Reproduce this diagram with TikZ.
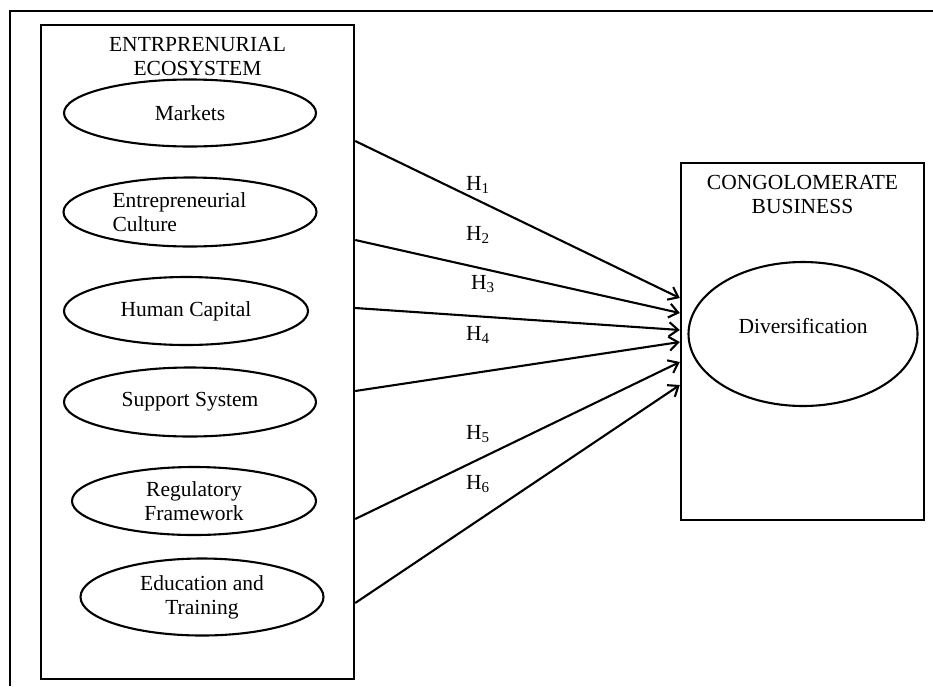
\documentclass[tikz,border=0pt]{standalone}
\usepackage{fontspec}
\setmainfont{Liberation Serif}
\usetikzlibrary{shapes.geometric,arrows.meta,positioning}

\begin{document}
\begin{tikzpicture}[x=1pt,y=-1pt,line width=2.1pt,
		every node/.style={font=\fontsize{21.5}{24}\selectfont},
		frame/.style={draw,line width=2.4pt,inner sep=0pt},
		factor/.style={draw,ellipse,inner sep=0pt,align=center},
		hyp/.style={-{Straight Barb[length=9pt,width=14pt]}}]
					%\draw[help lines] (0,0) grid (933,686);
					\useasboundingbox (0,0) rectangle (933,686);
					%FRAME
					\draw[line width=2.4pt] (10,686) -- (10,11) -- (933,11);

					%BOXES
					\node[frame,minimum width=313pt,minimum height=654pt] (eco) at (197.5,352) {};
					\node[frame,minimum width=243pt,minimum height=357pt] (cong) at (802.5,341.5) {};
					\node[below=12pt of eco.north,align=center,inner sep=0pt] (ecotitle) {ENTRPRENURIAL\\ECOSYSTEM};
					\node[below=12pt of cong.north,align=center,inner sep=0pt] (congtitle) {CONGOLOMERATE\\BUSINESS};

					%FACTORS
					\node[factor,minimum width=252pt,minimum height=67pt] (mk) at (190,113) {Markets};
					\node[factor,minimum width=253pt,minimum height=69pt,text width=155pt,align=left] (cu) at (190,212) {Entrepreneurial\\Culture};
					\node[factor,minimum width=244pt,minimum height=68pt] (hc) at (186,311) {Human Capital};
					\node[factor,minimum width=252pt,minimum height=69pt] (ss) at (190,402) {Support System};
					\node[factor,minimum width=244pt,minimum height=68pt] (rf) at (194,501) {Regulatory\\Framework};
					\node[factor,minimum width=243pt,minimum height=77pt] (et) at (202,597) {Education and\\Training};
					\node[factor,minimum width=229pt,minimum height=144pt,text depth=16pt] (dv) at (803,334) {Diversification};

					%HYPOTHESES
					\coordinate (s1) at (eco.east |- 0,141);
					\coordinate (s2) at (eco.east |- 0,240);
					\coordinate (s3) at (eco.east |- 0,308);
					\coordinate (s4) at (eco.east |- 0,391);
					\coordinate (s5) at (eco.east |- 0,519);
					\coordinate (s6) at (eco.east |- 0,603);
					\coordinate (e1) at (cong.west |- 0,298);
					\coordinate (e2) at (cong.west |- 0,313);
					\coordinate (e3) at (cong.west |- 0,330);
					\coordinate (e4) at (cong.west |- 0,342);
					\coordinate (e5) at (cong.west |- 0,362);
					\coordinate (e6) at (cong.west |- 0,385);
					\draw[hyp] (s1) -- (e1);
					\draw[hyp] (s2) -- (e2);
					\draw[hyp] (s3) -- (e3);
					\draw[hyp] (s4) -- (e4);
					\draw[hyp] (s5) -- (e5);
					\draw[hyp] (s6) -- (e6);
					\node[anchor=base west,inner sep=0pt] (h1) at (465,190) {H\textsubscript{1}};
					\node[anchor=base west,inner sep=0pt] (h2) at (465,240) {H\textsubscript{2}};
					\node[anchor=base west,inner sep=0pt] (h3) at (470,289) {H\textsubscript{3}};
					\node[anchor=base west,inner sep=0pt] (h4) at (465,340) {H\textsubscript{4}};
					\node[anchor=base west,inner sep=0pt] (h5) at (465,439) {H\textsubscript{5}};
					\node[anchor=base west,inner sep=0pt] (h6) at (465,489) {H\textsubscript{6}};
\end{tikzpicture}
\end{document}
